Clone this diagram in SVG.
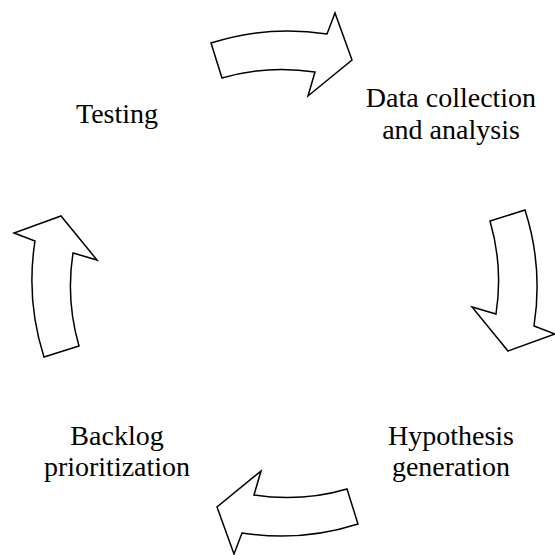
<svg xmlns="http://www.w3.org/2000/svg" width="555" height="555" viewBox="0 0 555 555">
<style>
.arrow{fill:#ffffff;stroke:#000000;stroke-width:1.5;stroke-linejoin:miter}
.label{font-family:"Liberation Serif","Times New Roman",serif;font-size:28px;fill:#000000;text-anchor:middle}
</style>
<defs>
<path id="arr" d="M211,43 A252,252 0 0 1 327,34 L335,13 L352,60 L308,96 L315,72 A214,214 0 0 0 222,78 Z"/>
</defs>
<rect width="555" height="555" fill="#ffffff"/>
<g id="connectors">
<use href="#arr" class="arrow"/>
<use href="#arr" class="arrow" transform="rotate(90 284.5 283.5)"/>
<use href="#arr" class="arrow" transform="rotate(180 284.5 283.5)"/>
<use href="#arr" class="arrow" transform="rotate(270 284.5 283.5)"/>
</g>
<g id="testing"><text class="label" x="117" y="123">Testing</text></g>
<g id="data"><text class="label" x="451" y="107">Data collection</text><text class="label" x="451" y="139">and analysis</text></g>
<g id="hypothesis"><text class="label" x="451" y="445">Hypothesis</text><text class="label" x="451" y="476">generation</text></g>
<g id="backlog"><text class="label" x="117" y="445">Backlog</text><text class="label" x="117" y="476">prioritization</text></g>
</svg>
